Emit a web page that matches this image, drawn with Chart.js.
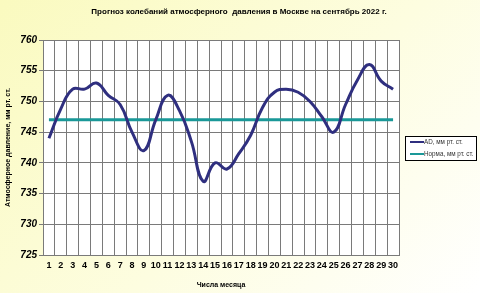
<!DOCTYPE html>
<html>
<head>
<meta charset="utf-8">
<script src="https://cdn.jsdelivr.net/npm/chart.js@4"></script>
<style>
  html, body { margin: 0; padding: 0; }
  body {
    width: 480px; height: 293px; overflow: hidden;
    background: linear-gradient(135deg, #fafabf 0%, #fdfde0 55%, #ffffff 100%);
  }
</style>
</head>
<body>
<canvas id="myChart" width="480" height="293"></canvas>
<script>
// дни месяца
const days = Array.from({ length: 30 }, (_, i) => String(i + 1));
// прогноз давления, мм рт. ст.
const pressure = [744, 748.8, 752, 752, 753, 751, 749.5, 745, 742, 747, 751, 748.5, 743.5, 737, 740, 739, 741.5, 744.5, 749, 751.5, 752, 751.5, 750, 747.5, 745, 749.5, 753.5, 756, 753.3, 752];
// норма
const norm = days.map(() => 747);

const chartTitle = 'Прогноз колебаний атмосферного  давления в Москве на сентябрь 2022 г.';
const FONT = "'Liberation Sans', Arial, sans-serif";

// белая область графика, заголовок и легенда в рамке
const chartExtras = {
    id: 'chartExtras',
    beforeDraw(chart) {
        const c = chart.ctx;
        const a = chart.chartArea;
        c.save();
        c.fillStyle = '#fff';
        c.fillRect(a.left, a.top, a.right - a.left, a.bottom - a.top);
        c.restore();
    },
    afterDraw(chart) {
        const c = chart.ctx;
        c.save();
        c.fillStyle = '#000';
        c.font = 'bold 8px ' + FONT;
        c.textAlign = 'center';
        c.textBaseline = 'middle';
        c.fillText(chartTitle, 239, 12);

        const x = 405, y = 136, w = 72, h = 25;
        c.fillStyle = '#fff';
        c.fillRect(x, y, w, h);
        c.strokeStyle = '#000';
        c.lineWidth = 1;
        c.strokeRect(x + 0.5, y + 0.5, w - 1, h - 1);
        c.font = '6.3px ' + FONT;
        c.textAlign = 'left';
        chart.data.datasets.forEach((ds, i) => {
            const ly = y + 6 + i * 12;
            c.strokeStyle = ds.borderColor;
            c.lineWidth = 2;
            c.beginPath();
            c.moveTo(x + 5, ly);
            c.lineTo(x + 19, ly);
            c.stroke();
            c.fillStyle = '#333';
            c.fillText(ds.label, x + 19, ly);
        });
        c.restore();
    }
};

const ctx = document.getElementById('myChart').getContext('2d');
new Chart(ctx, {
    type: 'line',
    data: {
        labels: days,
        datasets: [{
            label: 'AD, мм рт. ст.',
            data: pressure,
            borderColor: '#2f2f7f',
            borderWidth: 3,
            pointRadius: 0,
            tension: 0.45,
            fill: false
        }, {
            label: 'Норма, мм рт. ст.',
            data: norm,
            borderColor: '#1a9898',
            borderWidth: 3,
            pointRadius: 0,
            tension: 0,
            fill: false
        }]
    },
    options: {
        responsive: false,
        animation: false,
        layout: { padding: { left: 0, right: 81, top: 40, bottom: 0 } },
        plugins: {
            title: { display: false },
            legend: { display: false },
            tooltip: { enabled: false }
        },
        scales: {
            x: {
                offset: true,
                afterFit: (s) => { s.height = 38; },
                grid: { offset: true, color: '#7a7a7a', drawTicks: false },
                border: { color: '#7a7a7a' },
                ticks: {
                    color: '#000',
                    font: { family: FONT, size: 9, weight: 'bold' },
                    maxRotation: 0,
                    autoSkip: false,
                    padding: 5
                },
                title: {
                    display: true,
                    text: 'Числа месяца',
                    color: '#000',
                    font: { family: FONT, size: 7, weight: 'bold' },
                    padding: { top: 4 }
                }
            },
            y: {
                min: 725,
                max: 760,
                afterFit: (s) => { s.width = 43; },
                grid: { color: '#7a7a7a', tickLength: 4 },
                border: { color: '#7a7a7a' },
                ticks: {
                    stepSize: 5,
                    autoSkip: false,
                    color: '#000',
                    font: { family: FONT, size: 10, weight: 'bold', style: 'italic' },
                    padding: 2
                },
                title: {
                    display: true,
                    text: 'Атмосферное давление, мм рт. ст.',
                    color: '#000',
                    font: { family: FONT, size: 7, weight: 'bold' },
                    padding: { bottom: 2 }
                }
            }
        }
    },
    plugins: [chartExtras]
});
</script>
</body>
</html>
